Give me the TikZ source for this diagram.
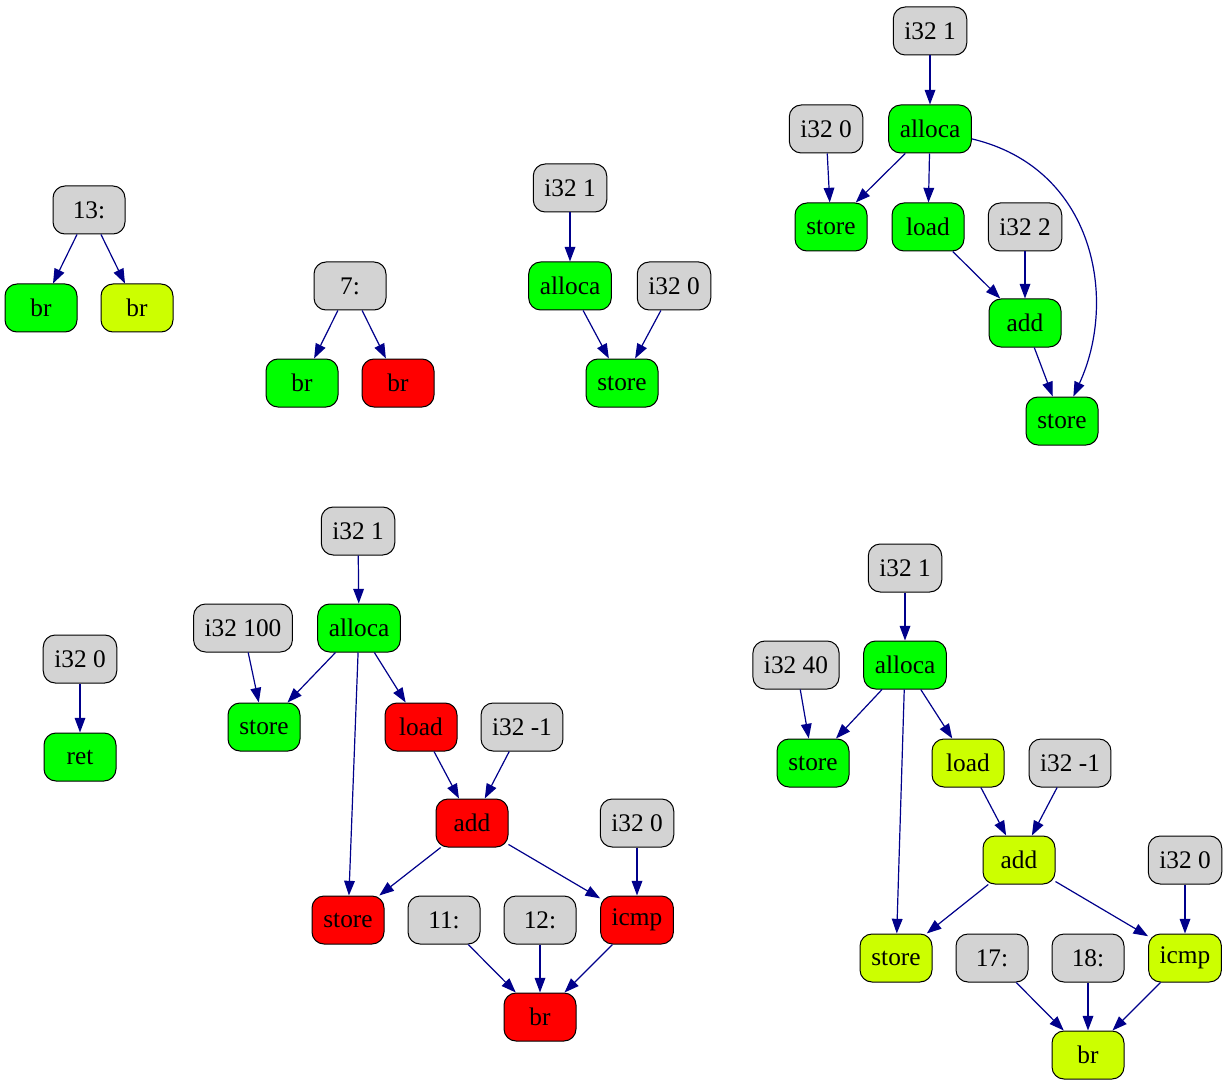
\documentclass[tikz,border=0pt]{standalone}
\usepackage{fontspec}
\setmainfont{Liberation Serif}
\usetikzlibrary{arrows.meta}

\definecolor{opgray}{RGB}{211,211,211}
\definecolor{opgreen}{RGB}{0,255,0}
\definecolor{opyellow}{RGB}{204,255,0}
\definecolor{opred}{RGB}{255,0,0}
\definecolor{edgeblue}{RGB}{0,0,139}

\begin{document}
\begin{tikzpicture}[x=0.75pt,y=-0.75pt,
  op/.style={draw=black, line width=0.75pt, rounded corners=9pt,
    minimum width=54pt, minimum height=36pt, inner xsep=8.3pt, inner ysep=0pt,
    font=\rmfamily\fontsize{19}{22}\selectfont},
  val/.style={op, fill=opgray},
  ok/.style={op, fill=opgreen},
  warn/.style={op, fill=opyellow},
  bad/.style={op, fill=opred},
  dep/.style={draw=edgeblue, line width=0.9pt, -{Triangle[length=11pt,width=8pt]}}]
\useasboundingbox (0,0) rectangle (1228,1084);

% block 13:
\node[val] (b13) at (89,210) {13:};
\node[ok] (b13t) at (41,308) {br};
\node[warn] (b13f) at (137,308) {br};
\draw[dep] (b13) -- (b13t);
\draw[dep] (b13) -- (b13f);

% block 7:
\node[val] (b7) at (350,286) {7:};
\node[ok] (b7t) at (302,383) {br};
\node[bad] (b7f) at (398,383) {br};
\draw[dep] (b7) -- (b7t);
\draw[dep] (b7) -- (b7f);

% alloca + store
\node[val] (ac1) at (570,188) {i32 1};
\node[ok] (aa1) at (570,286) {alloca};
\node[val] (az1) at (674,286) {i32 0};
\node[ok] (as1) at (622,383) {store};
\draw[dep] (ac1) -- (aa1);
\draw[dep] (aa1) -- (as1);
\draw[dep] (az1) -- (as1);

% alloca, load, add 2, store
\node[val] (bc1) at (930,31) {i32 1};
\node[ok] (ba) at (930,129) {alloca};
\node[val] (bz) at (826,129) {i32 0};
\node[ok] (bs) at (831,227) {store};
\node[ok] (bl) at (928,227) {load};
\node[val] (bc2) at (1025,227) {i32 2};
\node[ok] (bad) at (1025,323) {add};
\node[ok] (bst) at (1062,421) {store};
\draw[dep] (bc1) -- (ba);
\draw[dep] (bz) -- (bs);
\draw[dep] (ba) -- (bs);
\draw[dep] (ba) -- (bl);
\draw[dep] (bl) -- (bad);
\draw[dep] (bc2) -- (bad);
\draw[dep] (bad) -- (bst);
\draw[dep] (ba) .. controls (1095,168) and (1118,300) .. (bst);

% ret
\node[val] (rz) at (80,659) {i32 0};
\node[ok] (rr) at (80,757) {ret};
\draw[dep] (rz) -- (rr);

% loop with i32 100
\node[val] (cc1) at (358,531) {i32 1};
\node[ok] (ca) at (359,628) {alloca};
\node[val] (cn) at (243,628) {i32 100};
\node[ok] (cs) at (264,727) {store};
\node[bad] (cl) at (421,727) {load};
\node[val] (cm) at (522,727) {i32 -1};
\node[bad] (cad) at (472,823) {add};
\node[val] (cz) at (637,823) {i32 0};
\node[bad] (cst) at (348,920) {store};
\node[val] (c11) at (444,920) {11:};
\node[val] (c12) at (540,920) {12:};
\node[bad] (ci) at (637,920) {icmp};
\node[bad] (cb) at (540,1017) {br};
\draw[dep] (cc1) -- (ca);
\draw[dep] (cn) -- (cs);
\draw[dep] (ca) -- (cs);
\draw[dep] (ca) -- (cl);
\draw[dep] (ca) -- (cst);
\draw[dep] (cl) -- (cad);
\draw[dep] (cm) -- (cad);
\draw[dep] (cad) -- (cst);
\draw[dep] (cad) -- (ci);
\draw[dep] (cz) -- (ci);
\draw[dep] (c11) -- (cb);
\draw[dep] (c12) -- (cb);
\draw[dep] (ci) -- (cb);

% loop with i32 40
\node[val] (dc1) at (905,568) {i32 1};
\node[ok] (da) at (905,665) {alloca};
\node[val] (df) at (796,665) {i32 40};
\node[ok] (ds) at (813,763) {store};
\node[warn] (dl) at (968,763) {load};
\node[val] (dm) at (1070,763) {i32 -1};
\node[warn] (dad) at (1019,860) {add};
\node[val] (dz) at (1185,860) {i32 0};
\node[warn] (dst) at (896,958) {store};
\node[val] (d17) at (992,958) {17:};
\node[val] (d18) at (1088,958) {18:};
\node[warn] (di) at (1185,958) {icmp};
\node[warn] (db) at (1088,1055) {br};
\draw[dep] (dc1) -- (da);
\draw[dep] (df) -- (ds);
\draw[dep] (da) -- (ds);
\draw[dep] (da) -- (dl);
\draw[dep] (da) -- (dst);
\draw[dep] (dl) -- (dad);
\draw[dep] (dm) -- (dad);
\draw[dep] (dad) -- (dst);
\draw[dep] (dad) -- (di);
\draw[dep] (dz) -- (di);
\draw[dep] (d17) -- (db);
\draw[dep] (d18) -- (db);
\draw[dep] (di) -- (db);
\end{tikzpicture}
\end{document}
